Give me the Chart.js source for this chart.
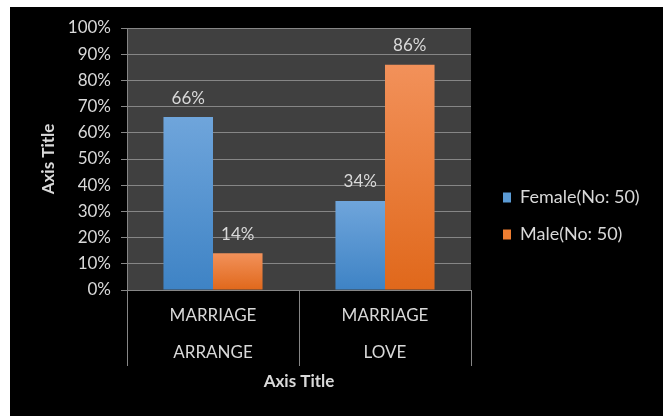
<!DOCTYPE html>
<html>
<head>
<meta charset="utf-8">
<script src="https://cdn.jsdelivr.net/npm/chart.js@4.4.1/dist/chart.umd.min.js"></script>
<style>
  html, body { margin: 0; padding: 0; background: #ffffff; width: 668px; height: 416px; overflow: hidden; }
  #wrap { position: absolute; left: 10px; top: 7px; width: 653px; height: 409px; background: #000000; }
  canvas { display: block; }
</style>
</head>
<body>
<div id="wrap"><canvas id="c" width="653" height="409"></canvas></div>
<script>
// ---- Data ----
const categories = [["MARRIAGE", "ARRANGE"], ["MARRIAGE", "LOVE"]];
const femaleValues = [66, 34];
const maleValues = [14, 86];
const seriesNames = ["Female(No: 50)", "Male(No: 50)"];
const yTicks = [0, 10, 20, 30, 40, 50, 60, 70, 80, 90, 100];
const axisTitleX = "Axis Title";
const axisTitleY = "Axis Title";

const FONT = "Lato, 'Open Sans', sans-serif";
const TEXT = "#d9d9d9";
const GRID = "#868686";

function barGradient(top, bottom) {
  return function (ctx) {
    const chart = ctx.chart;
    if (ctx.type !== 'data' || !chart.chartArea || !chart.scales.y) return bottom;
    const ys = chart.scales.y;
    const yTop = ys.getPixelForValue(ctx.parsed ? ctx.parsed.y : ctx.raw);
    const yBot = ys.getPixelForValue(0);
    if (!isFinite(yTop) || !isFinite(yBot) || yTop === yBot) return bottom;
    const g = chart.ctx.createLinearGradient(0, yTop, 0, yBot);
    g.addColorStop(0, top);
    g.addColorStop(1, bottom);
    return g;
  };
}

const plotBg = {
  id: 'plotBg',
  beforeDraw(chart) {
    const a = chart.chartArea;
    const c = chart.ctx;
    c.save();
    c.fillStyle = '#404040';
    c.fillRect(a.left, a.top, a.right - a.left, a.bottom - a.top);
    c.restore();
  }
};

const LEGEND_PAD = 19;
const legendPlace = {
  id: 'legendPlace',
  beforeUpdate(chart) {
    const lg = chart.legend;
    if (lg && !lg._patched) {
      const orig = lg.fit;
      lg.fit = function () { orig.call(this); this.width = 192; };
      lg._patched = true;
    }
  },
  afterLayout(chart) {
    const lg = chart.legend;
    if (!lg) return;
    const shift = 493 - (lg.left + LEGEND_PAD);
    lg.left += shift;
    lg.right += shift;
    lg.top -= 6;
    lg.bottom -= 6;
  }
};

const valueLabels = {
  id: 'valueLabels',
  afterDatasetsDraw(chart) {
    const c = chart.ctx;
    c.save();
    c.fillStyle = TEXT;
    c.font = "17px " + FONT;
    c.textAlign = 'center';
    c.textBaseline = 'middle';
    chart.data.datasets.forEach((ds, i) => {
      const meta = chart.getDatasetMeta(i);
      meta.data.forEach((bar, j) => {
        c.fillText(ds.data[j] + '%', bar.x, bar.y - 19);
      });
    });
    c.restore();
  }
};

new Chart(document.getElementById('c'), {
  type: 'bar',
  data: {
    labels: categories,
    datasets: [
      { label: seriesNames[0], data: femaleValues,
        backgroundColor: barGradient('#6fa5db', '#3e83c5') },
      { label: seriesNames[1], data: maleValues,
        backgroundColor: barGradient('#f2915a', '#e0681b') }
    ]
  },
  options: {
    responsive: false,
    devicePixelRatio: 1,
    animation: false,
    layout: { padding: { top: 21, left: 0, right: 0, bottom: 0 } },
    datasets: { bar: { categoryPercentage: 0.576, barPercentage: 1.0 } },
    plugins: {
      legend: {
        position: 'right',
        align: 'center',
        labels: {
          color: TEXT,
          font: { family: FONT, size: 18 },
          boxWidth: 8,
          boxHeight: 10,
          padding: LEGEND_PAD,
          generateLabels(chart) {
            const cols = ['#5b9bd5', '#ed7d31'];
            return chart.data.datasets.map((ds, i) => ({
              text: ds.label, fillStyle: cols[i], strokeStyle: cols[i],
              lineWidth: 0, fontColor: TEXT, datasetIndex: i, hidden: false
            }));
          }
        }
      },
      tooltip: { enabled: false }
    },
    scales: {
      x: {
        offset: true,
        grid: { offset: true, drawOnChartArea: false, drawTicks: true, tickLength: 76, color: GRID, lineWidth: 1 },
        border: { display: true, color: GRID },
        ticks: { color: TEXT, font: { family: FONT, size: 17, lineHeight: 37 / 17 }, padding: -68.5, maxRotation: 0, autoSkip: false },
        title: { display: true, text: axisTitleX, color: TEXT, font: { family: FONT, size: 17, weight: 'bold' }, padding: { top: 0, bottom: 24 } },
        afterFit(scale) { scale.height = 126; }
      },
      y: {
        min: 0, max: 100,
        afterBuildTicks(scale) { scale.ticks = yTicks.map(v => ({ value: v })); },
        grid: { color: GRID, lineWidth: 1, tickLength: 6 },
        border: { display: true, color: GRID },
        ticks: { color: TEXT, font: { family: FONT, size: 17 }, padding: 10, callback: v => v + '%' },
        title: { display: true, text: axisTitleY, color: TEXT, font: { family: FONT, size: 17, weight: 'bold' }, padding: { top: 28, bottom: 0 } },
        afterFit(scale) { scale.width = 117; }
      }
    }
  },
  plugins: [plotBg, legendPlace, valueLabels]
});
</script>
</body>
</html>
